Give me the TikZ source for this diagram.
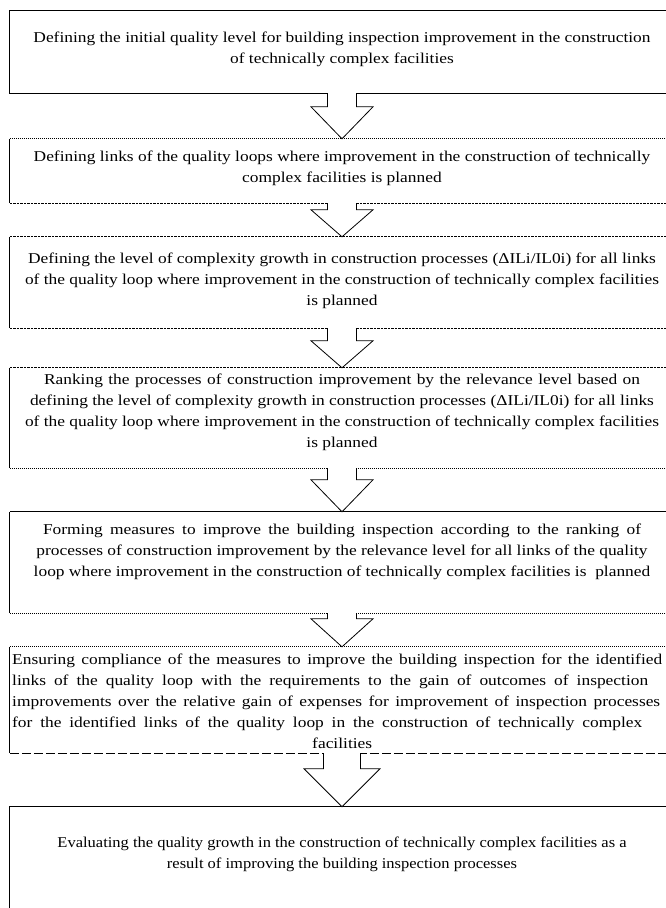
\documentclass[tikz,border=0pt]{standalone}
\usepackage{fontspec}
\setmainfont{Liberation Serif}[FakeStretch=1.16]
\usetikzlibrary{calc}
\tikzset{
  boxshape/.style={rectangle, minimum width=664pt, inner sep=0pt, draw=none},
  txt/.style={font=\fontsize{15}{21}\selectfont, align=center, inner sep=0pt,
    execute at begin node=\strut, execute at end node=\strut},
  sidesolid/.style={line width=0.9pt},
  sidedot/.style={line width=0.9pt, dash pattern=on 1pt off 1pt},
  sidedash/.style={line width=0.9pt, dash pattern=on 2.5pt off 1pt},
  sidelong/.style={line width=0.9pt, dash pattern=on 9pt off 3pt},
  arrowline/.style={line width=0.8pt, draw=black, fill=white, line join=miter},
}
\newcommand{\blockarr}[5]{%
  \fill[white] ($(#1.south)+(-#3+0.7,1.5)$) rectangle ($(#1.south)+(#3-0.7,-1.5)$);
  \filldraw[arrowline] ($(#1.south)+(-#3,0)$) -- ($(#2.north)+(-#3,-#5)$)
    -- ($(#2.north)+(-#4,-#5)$) -- (#2.north) -- ($(#2.north)+(#4,-#5)$)
    -- ($(#2.north)+(#3,-#5)$) -- ($(#1.south)+(#3,0)$);
}
\newcommand{\jline}[2]{\makebox[#1pt][s]{#2}}
\begin{document}
\begin{tikzpicture}[x=1pt, y=-1pt]
\useasboundingbox (0,0) rectangle (666,908);
\clip (0,0) rectangle (666,908);
\fill[white] (0,0) rectangle (666,908);

% boxes
\node[boxshape, minimum height=82pt]  (b1) at (342,52) {};
\node[boxshape, minimum height=64pt]  (b2) at (342,171) {};
\node[boxshape, minimum height=91pt]  (b3) at (342,282.5) {};
\node[boxshape, minimum height=100pt] (b4) at (342,418) {};
\node[boxshape, minimum height=101pt] (b5) at (342,562.5) {};
\node[boxshape, minimum height=106pt] (b6) at (342,700) {};
\node[boxshape, minimum height=133pt] (b7) at (342,873.5) {};

% box sides
\draw[sidesolid] (b1.north east) -- (b1.north west) -- (b1.south west) -- (b1.south east);
\draw[sidedot]  (b2.north west) -- (b2.north east);
\draw[sidesolid] (b2.north west) -- (b2.south west);
\draw[sidedash] (b2.south west) -- (b2.south east);
\draw[sidedash] (b3.north west) -- (b3.north east);
\draw[sidesolid] (b3.north west) -- (b3.south west);
\draw[sidedash] (b3.south west) -- (b3.south east);
\draw[sidedash] (b4.north west) -- (b4.north east);
\draw[sidesolid] (b4.north west) -- (b4.south west);
\draw[sidedot]  (b4.south west) -- (b4.south east);
\draw[sidesolid] (b5.north west) -- (b5.north east);
\draw[sidesolid] (b5.north west) -- (b5.south west);
\draw[sidedot]  (b5.south west) -- (b5.south east);
\draw[sidedot]  (b6.north west) -- (b6.north east);
\draw[sidesolid] (b6.north west) -- (b6.south west);
\draw[sidelong] (b6.south west) -- (b6.south east);
\draw[sidesolid] (b7.north east) -- (b7.north west) -- (b7.south west);

% block arrows
\blockarr{b1}{b2}{14.5}{31}{32}
\blockarr{b2}{b3}{14.5}{31}{27}
\blockarr{b3}{b4}{14.5}{31}{27}
\blockarr{b4}{b5}{14.5}{31}{32}
\blockarr{b5}{b6}{14.5}{31}{28}
\blockarr{b6}{b7}{18.5}{38}{38}

% texts
\node[txt] (t1) at (342,51) {Defining the initial quality level for building inspection improvement in the construction\\
of technically complex facilities};
\node[txt] (t2) at (342,169.5) {Defining links of the quality loops where improvement in the construction of technically\\
complex facilities is planned};
\node[txt] (t3) at (342,282) {Defining the level of complexity growth in construction processes (ΔILi/IL0i) for all links\\
of the quality loop where improvement in the construction of technically complex facilities\\
is planned};
\node[txt] (t4) at (342,414) {\jline{596}{Ranking the processes of construction improvement by the relevance level based on}\\
defining the level of complexity growth in construction processes (ΔILi/IL0i) for all links\\
of the quality loop where improvement in the construction of technically complex facilities\\
is planned};
\node[txt] (t5) at (342,553.5) {\jline{598}{Forming measures to improve the building inspection according to the ranking of}\\
processes of construction improvement by the relevance level for all links of the quality\\
loop where improvement in the construction of technically complex facilities is\ \ planned};
\node[txt, align=left, anchor=west] (t6) at (12,704.5) {\jline{650}{Ensuring compliance of the measures to improve the building inspection for the identified}\\
\jline{636}{links of the quality loop with the requirements to the gain of outcomes of inspection}\\
\jline{648}{improvements over the relative gain of expenses for improvement of inspection processes}\\
\jline{630}{for the identified links of the quality loop in the construction of technically complex}\\
\makebox[660pt][c]{facilities}};
\node[txt, font=\fontsize{15}{21}\selectfont\addfontfeature{FakeStretch=1.1}] (t7) at (342,856) {Evaluating the quality growth in the construction of technically complex facilities as a\\
result of improving the building inspection processes};
\end{tikzpicture}
\end{document}
